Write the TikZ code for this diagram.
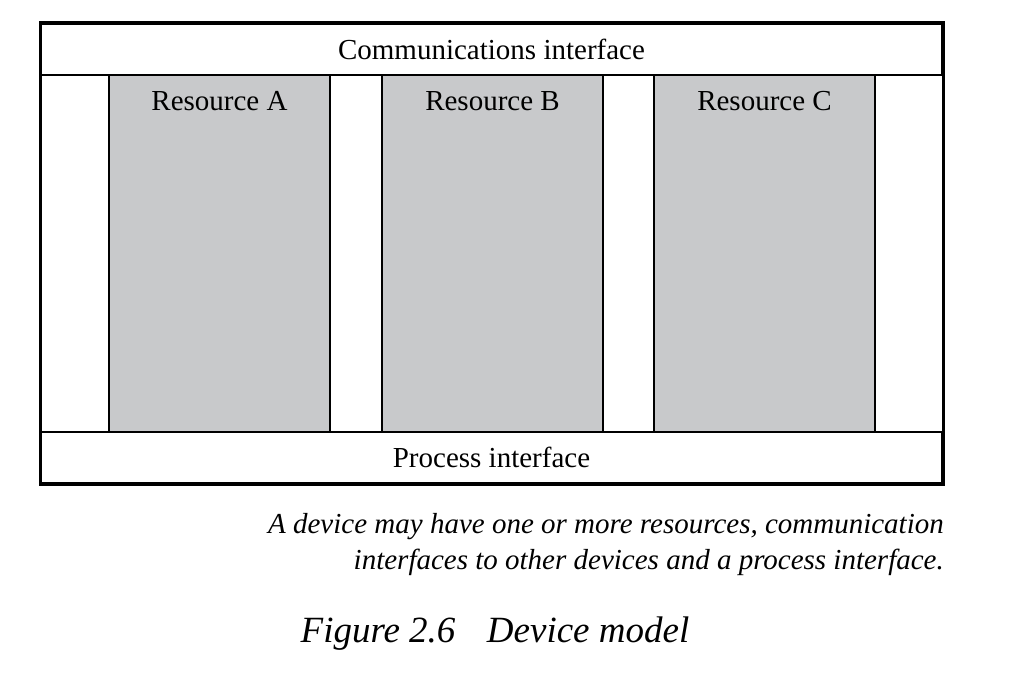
\documentclass[tikz,border=0pt]{standalone}
\usepackage{fontspec}
\setmainfont{Liberation Serif}
\definecolor{resgray}{RGB}{200,201,203}

\begin{document}
\begin{tikzpicture}[x=1pt,y=-1pt,line join=miter]
    \tikzstyle{band}=[rectangle,draw=black,line width=2pt,minimum width=901pt,minimum height=51pt,inner sep=0pt]
    \tikzstyle{resource}=[rectangle,draw=black,fill=resgray,line width=2pt,minimum width=221pt,minimum height=357pt,inner sep=0pt]
    \tikzstyle{label}=[font=\fontsize{29}{34}\selectfont,inner sep=0pt]
    \tikzstyle{caption}=[font=\fontsize{29}{34}\selectfont\itshape,inner sep=0pt,anchor=east]

    \useasboundingbox (0,0) rectangle (1023,679);

    % Draw the interface bands
    \node[band] (comm) at (491.5,49.5) {};
    \node[band] (proc) at (491.5,457.5) {};

    % Draw the resources
    \node[resource] (res-A) at (219.5,253.5) {};
    \node[resource] (res-B) at (492.5,253.5) {};
    \node[resource] (res-C) at (764.5,253.5) {};

    % Outer frame of the device
    \draw[line width=3pt] (comm.north west) rectangle (proc.south east);

    % Labels
    \node[label] (comm-l) at (comm.center) {Communications interface};
    \node[label] (proc-l) at (proc.center) {Process interface};
    \node[label] (res-A-l) at (219.5,101) {Resource A};
    \node[label] (res-B-l) at (492.5,101) {Resource B};
    \node[label] (res-C-l) at (764.5,101) {Resource C};

    % Caption below the frame
    \node[caption] (cap-1) at (944,527) {A device may have one or more resources, communication};
    \node[caption] (cap-2) at (944,562) {interfaces to other devices and a process interface.};
    \node[font=\fontsize{37}{44}\selectfont\itshape,inner sep=0pt] (fig) at (495,634) {Figure 2.6\hspace{0.6em} Device model};
\end{tikzpicture}
\end{document}
